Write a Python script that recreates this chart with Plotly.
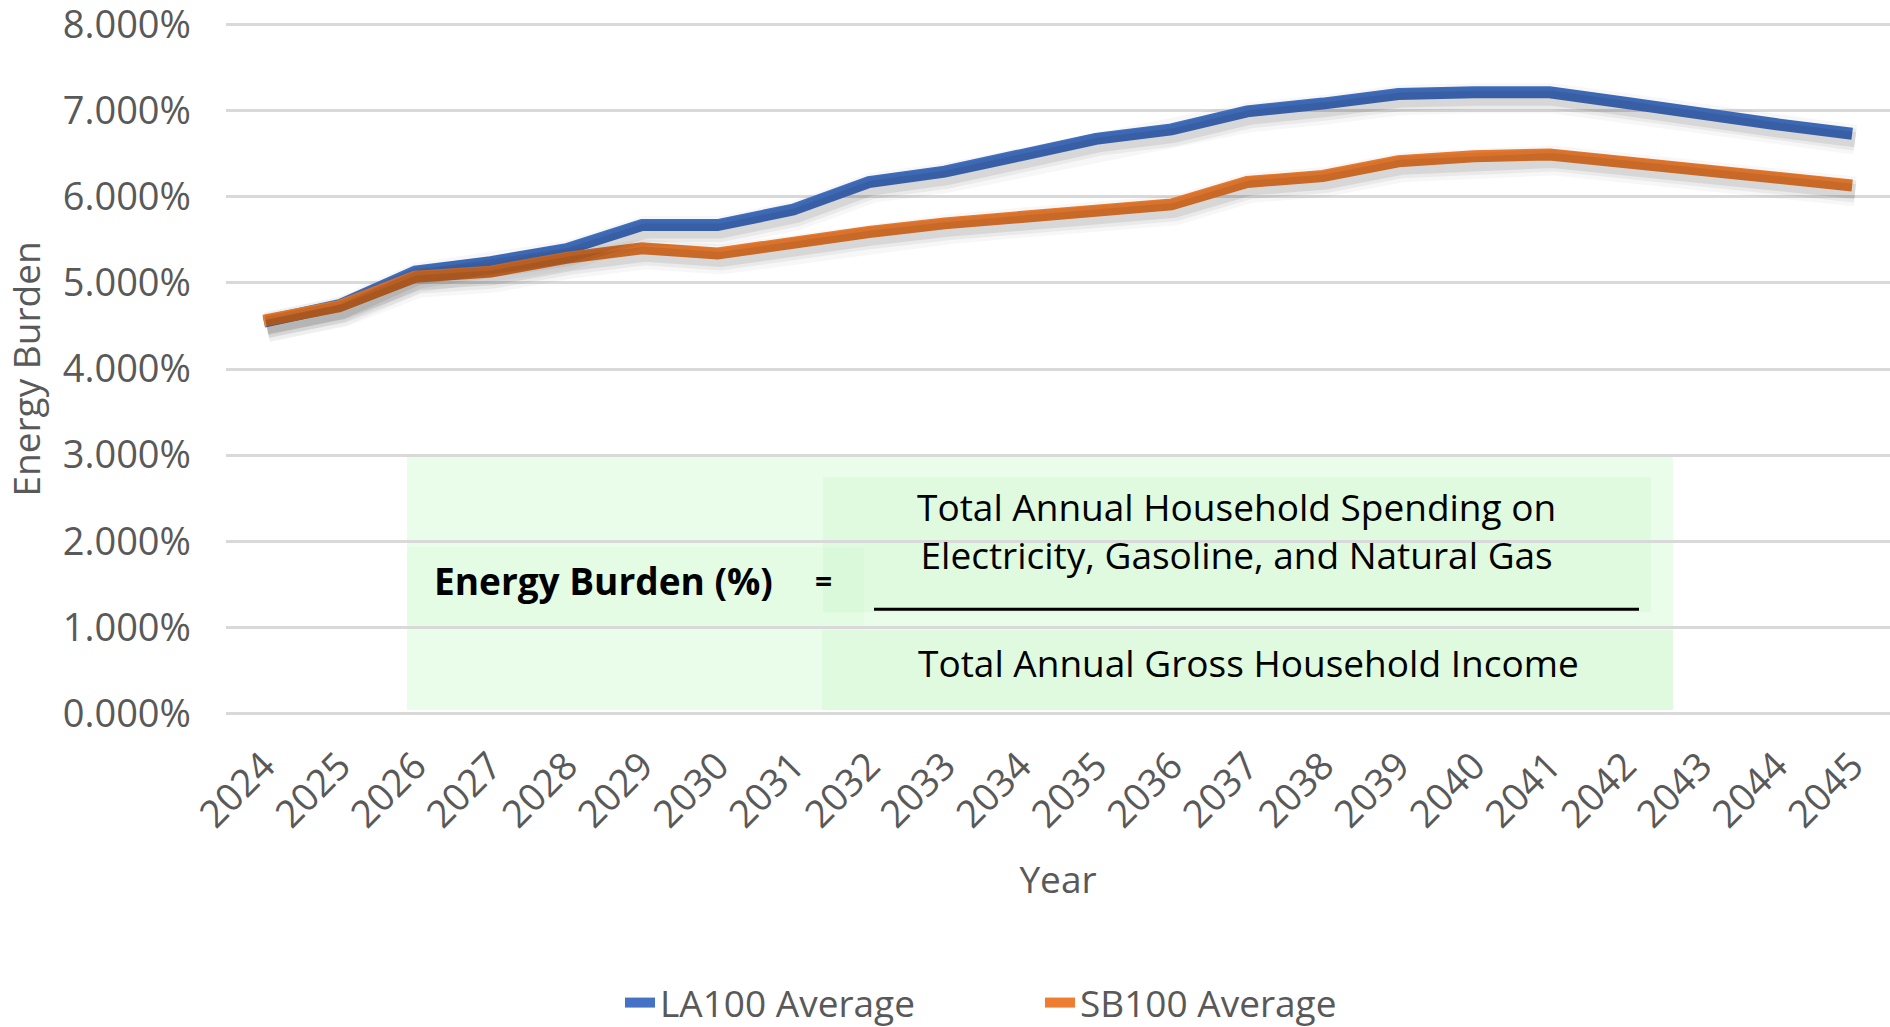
import plotly.graph_objects as go

years = [str(y) for y in range(2024, 2046)]
la100 = [4.55, 4.74, 5.13, 5.24, 5.39, 5.67, 5.67, 5.85, 6.17, 6.29, 6.48, 6.67,
         6.78, 6.99, 7.08, 7.19, 7.21, 7.21, 7.09, 6.95, 6.84, 6.73]
sb100 = [4.56, 4.73, 5.07, 5.13, 5.29, 5.40, 5.34, 5.48, 5.59, 5.69, 5.77, 5.82,
         5.91, 6.17, 6.24, 6.41, 6.47, 6.49, 6.40, 6.30, 6.20, 6.13]
y_ticks = [0, 0.01, 0.02, 0.03, 0.04, 0.05, 0.06, 0.07, 0.08]
series_names = ["LA100 Average", "SB100 Average"]
series_colors = ["#4472C4", "#ED7D31"]

W, H = 1890, 1027
# page pixel positions of the value axis ends and plot left edge
Y_TOP_PX, Y_BOT_PX = 24.0, 713.6
EPS = 0.00015
YMIN, YMAX = 0 - EPS, 0.08 + EPS
PPU = (Y_BOT_PX - Y_TOP_PX) / 0.08
T = Y_TOP_PX - EPS * PPU
Bpos = Y_BOT_PX + EPS * PPU
L, R = 226, 0
B = H - Bpos
PW, PH = W - L - R, Bpos - T

def px(x):
    return (x - L) / PW

def py(y):
    return (Bpos - y) / PH

FONT = "Open Sans"
GRAY = "#595959"

fig = go.Figure()

# soft drop shadow traces (slightly offset overlay axes)
dx = 3 / (PW / 22)
dy = 6 / PPU
for vals in (la100, sb100):
    for w, a in ((30, 0.03), (22, 0.05), (15, 0.08)):
        fig.add_trace(go.Scatter(
            x=years, y=[v / 100 for v in vals], mode="lines",
            line=dict(color=f"rgba(0,0,0,{a})", width=w),
            xaxis="x2", yaxis="y2", showlegend=False, hoverinfo="skip"))

for name, vals, col in zip(series_names, (la100, sb100), series_colors):
    fig.add_trace(go.Scatter(
        x=years, y=[v / 100 for v in vals], mode="lines", name=name,
        line=dict(color=col, width=12)))

shapes = [
    dict(type="rect", xref="paper", yref="paper", layer="below",
         x0=px(407), x1=px(1673), y0=py(710), y1=py(456),
         fillcolor="rgb(234,252,234)", line=dict(width=0)),
    dict(type="rect", xref="paper", yref="paper", layer="below",
         x0=px(407), x1=px(864), y0=py(625), y1=py(547),
         fillcolor="rgba(150,240,150,0.07)", line=dict(width=0)),
    dict(type="rect", xref="paper", yref="paper", layer="below",
         x0=px(823), x1=px(1651), y0=py(612), y1=py(477),
         fillcolor="rgba(150,240,150,0.12)", line=dict(width=0)),
    dict(type="rect", xref="paper", yref="paper", layer="below",
         x0=px(822), x1=px(1673), y0=py(710), y1=py(630),
         fillcolor="rgba(150,240,150,0.12)", line=dict(width=0)),
    dict(type="line", xref="paper", yref="paper",
         x0=px(874), x1=px(1639), y0=py(609), y1=py(609),
         line=dict(color="black", width=3)),
]

EQ = 37
annotations = [
    dict(text="<b>Energy Burden (%)</b>", x=px(603), y=py(580), xref="paper", yref="paper",
         showarrow=False, font=dict(family=FONT, size=EQ, color="black"),
         xanchor="center", yanchor="middle"),
    dict(text="<b>=</b>", x=px(823), y=py(580), xref="paper", yref="paper",
         showarrow=False, font=dict(family=FONT, size=30, color="black"),
         xanchor="center", yanchor="middle"),
    dict(text="Total Annual Household Spending on<br>Electricity, Gasoline, and Natural Gas",
         x=px(1236), y=py(530), xref="paper", yref="paper", showarrow=False,
         font=dict(family=FONT, size=EQ, color="black"), xanchor="center", yanchor="middle"),
    dict(text="Total Annual Gross Household Income",
         x=px(1248), y=py(662), xref="paper", yref="paper", showarrow=False,
         font=dict(family=FONT, size=EQ, color="black"), xanchor="center", yanchor="middle"),
]

fig.update_layout(
    width=W, height=H,
    margin=dict(l=L, r=R, t=T, b=B, pad=0, autoexpand=False),
    paper_bgcolor="white", plot_bgcolor="white",
    font=dict(family=FONT, size=38, color=GRAY),
    xaxis=dict(type="category", range=[-0.5, 21.5], tickangle=-45, automargin=False,
               showgrid=False, zeroline=False, showline=False, ticks="",
               ticklabelstandoff=20,
               tickfont=dict(family=FONT, size=38, color=GRAY),
               title=dict(text="Year", font=dict(family=FONT, size=37, color=GRAY), standoff=30)),
    yaxis=dict(range=[YMIN, YMAX], tickvals=y_ticks, tickformat=".3%", automargin=False,
               showgrid=True, gridcolor="#D9D9D9", gridwidth=3, zeroline=False,
               showline=False, ticks="", ticklabelstandoff=34, ticklabeloverflow="allow",
               tickfont=dict(family=FONT, size=38, color=GRAY),
               title=dict(text="Energy Burden", font=dict(family=FONT, size=37, color=GRAY), standoff=44)),
    xaxis2=dict(type="category", range=[-0.5 - dx, 21.5 - dx], overlaying="x",
                visible=False),
    yaxis2=dict(range=[YMIN + dy, YMAX + dy], overlaying="y", visible=False),
    legend=dict(orientation="h", x=px(620), y=py(1003), xanchor="left", yanchor="middle",
                font=dict(family=FONT, size=37, color=GRAY),
                entrywidth=375, entrywidthmode="pixels",
                bgcolor="rgba(0,0,0,0)"),
    shapes=shapes,
    annotations=annotations,
)

fig.write_html("out.html", config={"displayModeBar": False},
               post_script="document.body.style.margin='0';document.body.style.overflow='hidden';")
